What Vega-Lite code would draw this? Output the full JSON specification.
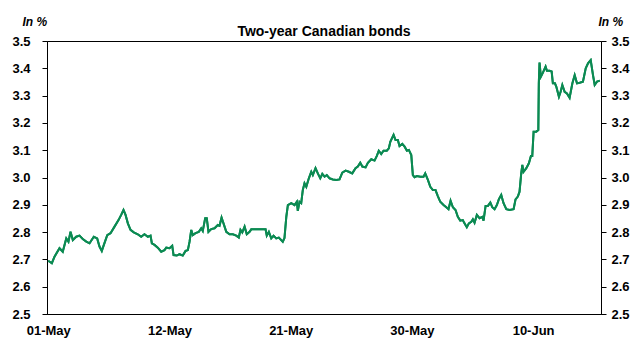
{
  "$schema": "https://vega.github.io/schema/vega-lite/v6.json",
  "width": 554,
  "height": 273,
  "autosize": {"type": "none"},
  "padding": {"left": 47, "top": 41, "right": 40, "bottom": 28},
  "background": "white",
  "title": {"text": "Two-year Canadian bonds", "font": "Liberation Sans", "fontSize": 14, "fontWeight": "bold", "color": "black", "anchor": "middle", "offset": 6, "dy": 30},
  "config": {"view": {"stroke": "black", "strokeWidth": 1}},
  "data": {"values": [
    {"obs": 0, "yield": 2.695}, {"obs": 3.0, "yield": 2.686}, {"obs": 5.2, "yield": 2.710}, {"obs": 9.3, "yield": 2.741},
    {"obs": 12.0, "yield": 2.728}, {"obs": 14.9, "yield": 2.777}, {"obs": 16.7, "yield": 2.765}, {"obs": 18.4, "yield": 2.801},
    {"obs": 20.3, "yield": 2.771}, {"obs": 23.1, "yield": 2.783}, {"obs": 25.8, "yield": 2.787}, {"obs": 28.5, "yield": 2.775},
    {"obs": 31.4, "yield": 2.765}, {"obs": 34.1, "yield": 2.759}, {"obs": 37.6, "yield": 2.783}, {"obs": 40.4, "yield": 2.777},
    {"obs": 42.3, "yield": 2.747}, {"obs": 44.2, "yield": 2.731}, {"obs": 45.9, "yield": 2.753}, {"obs": 48.7, "yield": 2.789},
    {"obs": 51.4, "yield": 2.796}, {"obs": 54.7, "yield": 2.820}, {"obs": 58.0, "yield": 2.844}, {"obs": 60.2, "yield": 2.863},
    {"obs": 62.1, "yield": 2.881}, {"obs": 63.8, "yield": 2.863}, {"obs": 65.7, "yield": 2.832}, {"obs": 67.9, "yield": 2.808},
    {"obs": 70.6, "yield": 2.799}, {"obs": 73.9, "yield": 2.792}, {"obs": 76.7, "yield": 2.783}, {"obs": 79.4, "yield": 2.792},
    {"obs": 82.2, "yield": 2.783}, {"obs": 84.4, "yield": 2.787}, {"obs": 85.5, "yield": 2.759}, {"obs": 87.7, "yield": 2.753},
    {"obs": 90.4, "yield": 2.743}, {"obs": 93.2, "yield": 2.728}, {"obs": 95.9, "yield": 2.734}, {"obs": 97.4, "yield": 2.743},
    {"obs": 100.1, "yield": 2.741}, {"obs": 102.3, "yield": 2.750}, {"obs": 103.4, "yield": 2.716}, {"obs": 106.1, "yield": 2.714},
    {"obs": 108.3, "yield": 2.719}, {"obs": 111.0, "yield": 2.714}, {"obs": 113.3, "yield": 2.731}, {"obs": 115.2, "yield": 2.734},
    {"obs": 116.6, "yield": 2.765}, {"obs": 118.0, "yield": 2.808}, {"obs": 119.3, "yield": 2.789}, {"obs": 121.5, "yield": 2.796},
    {"obs": 124.2, "yield": 2.801}, {"obs": 126.2, "yield": 2.814}, {"obs": 127.5, "yield": 2.804}, {"obs": 129.5, "yield": 2.851},
    {"obs": 130.8, "yield": 2.851}, {"obs": 132.2, "yield": 2.801}, {"obs": 134.5, "yield": 2.811}, {"obs": 137.2, "yield": 2.814},
    {"obs": 139.9, "yield": 2.826}, {"obs": 141.3, "yield": 2.823}, {"obs": 143.0, "yield": 2.853}, {"obs": 144.6, "yield": 2.832},
    {"obs": 146.9, "yield": 2.801}, {"obs": 149.6, "yield": 2.792}, {"obs": 152.3, "yield": 2.792}, {"obs": 155.1, "yield": 2.787},
    {"obs": 157.2, "yield": 2.780}, {"obs": 158.6, "yield": 2.808}, {"obs": 160.1, "yield": 2.799}, {"obs": 162.0, "yield": 2.820},
    {"obs": 163.8, "yield": 2.792}, {"obs": 166.1, "yield": 2.801}, {"obs": 167.5, "yield": 2.810}, {"obs": 171.6, "yield": 2.810},
    {"obs": 175.7, "yield": 2.810}, {"obs": 179.3, "yield": 2.810}, {"obs": 180.3, "yield": 2.787}, {"obs": 182.0, "yield": 2.801},
    {"obs": 184.0, "yield": 2.777}, {"obs": 185.9, "yield": 2.787}, {"obs": 188.1, "yield": 2.777}, {"obs": 190.2, "yield": 2.780},
    {"obs": 193.5, "yield": 2.765}, {"obs": 194.9, "yield": 2.778}, {"obs": 196.4, "yield": 2.856}, {"obs": 197.7, "yield": 2.899},
    {"obs": 200.5, "yield": 2.906}, {"obs": 203.2, "yield": 2.899}, {"obs": 205.1, "yield": 2.911}, {"obs": 205.9, "yield": 2.878},
    {"obs": 207.3, "yield": 2.911}, {"obs": 208.7, "yield": 2.906}, {"obs": 210.0, "yield": 2.954}, {"obs": 211.4, "yield": 2.979},
    {"obs": 212.9, "yield": 2.966}, {"obs": 215.0, "yield": 2.997}, {"obs": 217.0, "yield": 3.021}, {"obs": 218.3, "yield": 3.009},
    {"obs": 220.5, "yield": 3.034}, {"obs": 222.4, "yield": 3.015}, {"obs": 224.4, "yield": 2.997}, {"obs": 226.1, "yield": 3.013},
    {"obs": 228.0, "yield": 3.003}, {"obs": 229.8, "yield": 3.009}, {"obs": 232.1, "yield": 2.997}, {"obs": 234.8, "yield": 2.993},
    {"obs": 237.6, "yield": 2.991}, {"obs": 240.3, "yield": 2.993}, {"obs": 242.6, "yield": 3.018}, {"obs": 245.3, "yield": 3.025},
    {"obs": 248.0, "yield": 3.021}, {"obs": 250.8, "yield": 3.015}, {"obs": 253.5, "yield": 3.034}, {"obs": 255.4, "yield": 3.040},
    {"obs": 257.4, "yield": 3.054}, {"obs": 259.1, "yield": 3.040}, {"obs": 261.8, "yield": 3.037}, {"obs": 263.7, "yield": 3.054},
    {"obs": 266.5, "yield": 3.067}, {"obs": 269.2, "yield": 3.062}, {"obs": 271.1, "yield": 3.079}, {"obs": 272.7, "yield": 3.098},
    {"obs": 274.7, "yield": 3.086}, {"obs": 276.6, "yield": 3.098}, {"obs": 279.3, "yield": 3.098}, {"obs": 281.0, "yield": 3.107},
    {"obs": 282.2, "yield": 3.131}, {"obs": 284.9, "yield": 3.156}, {"obs": 286.5, "yield": 3.137}, {"obs": 288.4, "yield": 3.137},
    {"obs": 289.8, "yield": 3.115}, {"obs": 292.1, "yield": 3.123}, {"obs": 294.0, "yield": 3.113}, {"obs": 295.9, "yield": 3.098},
    {"obs": 297.5, "yield": 3.101}, {"obs": 299.5, "yield": 3.082}, {"obs": 300.8, "yield": 3.009}, {"obs": 302.2, "yield": 3.001},
    {"obs": 304.1, "yield": 3.005}, {"obs": 306.9, "yield": 3.003}, {"obs": 309.6, "yield": 3.003}, {"obs": 311.0, "yield": 3.015},
    {"obs": 313.2, "yield": 2.991}, {"obs": 315.2, "yield": 2.966}, {"obs": 317.3, "yield": 2.954}, {"obs": 319.5, "yield": 2.954},
    {"obs": 321.4, "yield": 2.932}, {"obs": 323.4, "yield": 2.911}, {"obs": 326.1, "yield": 2.899}, {"obs": 328.4, "yield": 2.891},
    {"obs": 330.2, "yield": 2.884}, {"obs": 331.9, "yield": 2.915}, {"obs": 333.8, "yield": 2.891}, {"obs": 336.0, "yield": 2.881},
    {"obs": 337.9, "yield": 2.856}, {"obs": 339.9, "yield": 2.842}, {"obs": 342.0, "yield": 2.844}, {"obs": 343.4, "yield": 2.832},
    {"obs": 345.3, "yield": 2.818}, {"obs": 347.0, "yield": 2.832}, {"obs": 349.0, "yield": 2.838}, {"obs": 350.3, "yield": 2.847},
    {"obs": 351.7, "yield": 2.834}, {"obs": 353.6, "yield": 2.863}, {"obs": 355.8, "yield": 2.851}, {"obs": 358.1, "yield": 2.856},
    {"obs": 359.1, "yield": 2.842}, {"obs": 360.8, "yield": 2.896}, {"obs": 362.7, "yield": 2.896}, {"obs": 364.7, "yield": 2.908},
    {"obs": 366.3, "yield": 2.891}, {"obs": 368.2, "yield": 2.884}, {"obs": 370.1, "yield": 2.899}, {"obs": 371.7, "yield": 2.920},
    {"obs": 373.7, "yield": 2.936}, {"obs": 375.6, "yield": 2.906}, {"obs": 377.9, "yield": 2.884}, {"obs": 380.6, "yield": 2.881},
    {"obs": 383.9, "yield": 2.884}, {"obs": 385.5, "yield": 2.920}, {"obs": 387.4, "yield": 2.930}, {"obs": 388.8, "yield": 2.948},
    {"obs": 390.2, "yield": 3.015}, {"obs": 391.1, "yield": 3.046}, {"obs": 392.1, "yield": 3.021}, {"obs": 394.4, "yield": 3.034},
    {"obs": 396.5, "yield": 3.052}, {"obs": 398.2, "yield": 3.079}, {"obs": 399.3, "yield": 3.079}, {"obs": 400.4, "yield": 3.168},
    {"obs": 402.6, "yield": 3.168}, {"obs": 404.3, "yield": 3.174}, {"obs": 404.7, "yield": 3.345}, {"obs": 405.3, "yield": 3.421},
    {"obs": 406.4, "yield": 3.369}, {"obs": 408.1, "yield": 3.384}, {"obs": 410.3, "yield": 3.406}, {"obs": 411.4, "yield": 3.391},
    {"obs": 413.6, "yield": 3.391}, {"obs": 415.3, "yield": 3.388}, {"obs": 416.3, "yield": 3.345}, {"obs": 418.0, "yield": 3.345},
    {"obs": 419.1, "yield": 3.333}, {"obs": 421.3, "yield": 3.296}, {"obs": 422.7, "yield": 3.314}, {"obs": 424.1, "yield": 3.339},
    {"obs": 426.0, "yield": 3.314}, {"obs": 427.9, "yield": 3.308}, {"obs": 430.1, "yield": 3.292}, {"obs": 432.4, "yield": 3.345},
    {"obs": 434.3, "yield": 3.375}, {"obs": 436.2, "yield": 3.345}, {"obs": 438.4, "yield": 3.347}, {"obs": 441.1, "yield": 3.351},
    {"obs": 443.4, "yield": 3.400}, {"obs": 445.3, "yield": 3.418}, {"obs": 447.5, "yield": 3.430}, {"obs": 449.4, "yield": 3.375},
    {"obs": 450.8, "yield": 3.339}, {"obs": 452.7, "yield": 3.351}, {"obs": 455.0, "yield": 3.355}
  ]},
  "encoding": {
    "x": {
      "field": "obs", "type": "quantitative",
      "scale": {"domain": [-1, 456], "nice": false, "zero": false},
      "axis": {
        "values": [0, 100, 200, 300, 400],
        "labelExpr": "['01-May','12-May','21-May','30-May','10-Jun'][round(datum.value/100)]",
        "ticks": false, "grid": false, "title": null,
        "domainColor": "black", "domainWidth": 1,
        "labelFont": "Liberation Sans", "labelFontSize": 13, "labelFontWeight": "bold", "labelColor": "black",
        "labelPadding": 10, "labelFlush": false
      }
    },
    "y": {
      "field": "yield", "type": "quantitative",
      "scale": {"domain": [2.5, 3.5], "nice": false, "zero": false}
    }
  },
  "layer": [
    {
      "mark": {"type": "line", "color": "#0b8a52", "strokeWidth": 2},
      "encoding": {
        "y": {
          "field": "yield", "type": "quantitative",
          "scale": {"domain": [2.5, 3.5], "nice": false, "zero": false},
          "axis": {
            "orient": "left", "values": [2.5, 2.6, 2.7, 2.8, 2.9, 3.0, 3.1, 3.2, 3.3, 3.4, 3.5], "format": ".1f",
            "grid": false, "tickSize": 5, "tickColor": "black", "domainColor": "black",
            "labelFont": "Liberation Sans", "labelFontSize": 13, "labelFontWeight": "bold", "labelColor": "black", "labelPadding": 12,
            "title": "In %", "titleAngle": 0, "titleFont": "Liberation Sans", "titleFontSize": 12, "titleFontWeight": "bold", "titleFontStyle": "italic",
            "titleColor": "black", "titleAlign": "left", "titleBaseline": "middle", "titleX": -25, "titleY": -20
          }
        }
      }
    },
    {
      "mark": {"type": "line", "color": "#0b8a52", "strokeWidth": 2},
      "encoding": {
        "y": {
          "field": "yield", "type": "quantitative",
          "scale": {"domain": [2.5, 3.5], "nice": false, "zero": false},
          "axis": {
            "orient": "right", "values": [2.5, 2.6, 2.7, 2.8, 2.9, 3.0, 3.1, 3.2, 3.3, 3.4, 3.5], "format": ".1f",
            "grid": false, "tickSize": 5, "tickColor": "black", "domainColor": "black",
            "labelFont": "Liberation Sans", "labelFontSize": 13, "labelFontWeight": "bold", "labelColor": "black", "labelPadding": 5,
            "title": "In %", "titleAngle": 0, "titleFont": "Liberation Sans", "titleFontSize": 12, "titleFontWeight": "bold", "titleFontStyle": "italic",
            "titleColor": "black", "titleAlign": "left", "titleBaseline": "middle", "titleX": -3, "titleY": -20
          }
        }
      }
    }
  ],
  "resolve": {"axis": {"y": "independent"}}
}
